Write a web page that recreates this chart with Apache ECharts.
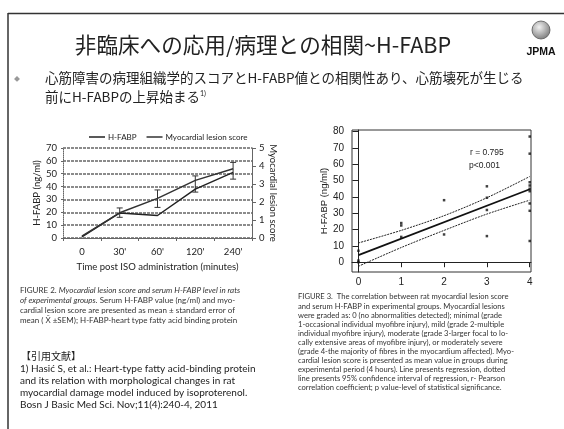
<!DOCTYPE html>
<html><head><meta charset="utf-8">
<script src="https://cdn.jsdelivr.net/npm/echarts@6/dist/echarts.min.js"></script>
<style>html,body{margin:0;padding:0;background:#fff}#c{width:564px;height:429px}</style>
</head><body><div id="c"></div>
<script>
// ---- Left chart data (FIGURE 2) ----
var categories = ['0', "30'", "60'", "120'", "240'"];
var hfabp = [0.8, 19.5, 17.5, 38, 51];            // ng/ml, left axis
var lesionScore = [0.1, 1.4, 2.2, 3.2, 3.85];     // score, right axis
var errLow = [null, 1.15, 1.7, 2.55, 3.27];
var errHigh = [null, 1.67, 2.67, 3.45, 4.2];

// ---- Right chart data (FIGURE 3) ----
var scoreX = [0, 0, 0, 1, 1, 1, 2, 2, 3, 3, 3, 3, 4, 4, 4, 4, 4, 4, 4, 4, 4];
var fabpY = [7, 1, 0, 24, 22.5, 15.5, 38, 17, 46.5, 39.5, 32, 16, 77, 66.5, 49, 47, 45, 43.5, 36, 31.5, 13];
var regX = [0, 4];
var regY = [4.3, 44.7];
var ciX = [0, 1, 2, 3, 4];
var ciUpper = [11.8, 19.5, 28.5, 39.5, 52.5];
var ciLower = [-2.5, 9, 19.5, 29.5, 38];
var scatterXTicks = [0, 1, 2, 3, 4];
var scatterYTicks = [0, 10, 20, 30, 40, 50, 60, 70, 80];

var JP = '"Noto Sans CJK JP", sans-serif';
var CAL = 'Lato, "Open Sans", sans-serif';
var ARI = '"Liberation Sans", Arial, sans-serif';

function zip(a, b) { return a.map(function (v, i) { return [v, b[i]]; }); }

var chart = echarts.init(document.getElementById('c'), null, {renderer: 'canvas'});

var capLeft = [
  'FIGURE 2. {i|Myocardial lesion score and serum H-FABP level in rats}',
  '{i|of experimental groups.} Serum H-FABP value (ng/ml) and myo-',
  'cardial lesion score are presented as mean \u00b1 standard error of',
  'mean ( X\u0304 \u00b1SEM); H-FABP-heart type fatty acid binding protein'
];
var refs = [
  '1) Hasi\u0107 S, et al.: Heart-type fatty acid-binding protein',
  'and its relation with morphological changes in rat',
  'myocardial damage model induced by isoproterenol.',
  'Bosn J Basic Med Sci. Nov;11(4):240-4, 2011'
];
var capRight = [
  'FIGURE 3.  The correlation between rat myocardial lesion score',
  'and serum H-FABP in experimental groups. Myocardial lesions',
  'were graded as: 0 (no abnormalities detected); minimal (grade',
  '1-occasional individual myofibre injury), mild (grade 2-multiple',
  'individual myofibre injury), moderate (grade 3-larger focal to lo-',
  'cally extensive areas of myofibre injury), or moderately severe',
  '(grade 4-the majority of fibres in the myocardium affected). Myo-',
  'cardial lesion score is presented as mean value in groups during',
  'experimental period (4 hours). Line presents regression, dotted',
  'line presents 95% confidence interval of regression, r- Pearson',
  'correlation coefficient; p value-level of statistical significance.'
];

var graphics = [
  {type: 'line', shape: {x1: 8, y1: 13.5, x2: 564, y2: 13.5}, style: {stroke: '#333', lineWidth: 1.5}},
  {type: 'line', shape: {x1: 8, y1: 13, x2: 8, y2: 429}, style: {stroke: '#333', lineWidth: 1.5}},
  {type: 'text', x: 263, y: 45, style: {text: '\u975e\u81e8\u5e8a\u3078\u306e\u5fdc\u7528/\u75c5\u7406\u3068\u306e\u76f8\u95a2~H-FABP', font: '21.6px ' + JP, fill: '#222', align: 'center', verticalAlign: 'middle'}},
  {type: 'circle', shape: {cx: 541, cy: 30, r: 9}, style: {fill: {type: 'radial', x: 0.4, y: 0.35, r: 0.7, colorStops: [{offset: 0, color: '#f2f2f2'}, {offset: 1, color: '#777'}]}, stroke: '#555', lineWidth: 0.8}},
  {type: 'text', x: 541, y: 52, style: {text: 'JPMA', font: 'bold 10.5px ' + ARI, fill: '#111', align: 'center', verticalAlign: 'middle'}},
  {type: 'text', x: 17, y: 79, style: {text: '\u25c6', font: '6px ' + JP, fill: '#999', align: 'center', verticalAlign: 'middle'}},
  {type: 'text', x: 45, y: 78, style: {text: '\u5fc3\u7b4b\u969c\u5bb3\u306e\u75c5\u7406\u7d44\u7e54\u5b66\u7684\u30b9\u30b3\u30a2\u3068H-FABP\u5024\u3068\u306e\u76f8\u95a2\u6027\u3042\u308a\u3001\u5fc3\u7b4b\u58ca\u6b7b\u304c\u751f\u3058\u308b', font: '13.5px ' + JP, fill: '#222', verticalAlign: 'middle'}},
  {type: 'text', x: 45, y: 97, style: {text: '\u524d\u306bH-FABP\u306e\u4e0a\u6607\u59cb\u307e\u308b{s|1)}', font: '13.5px ' + JP, fill: '#222', verticalAlign: 'middle', rich: {s: {font: '7px ' + CAL, fill: '#222', verticalAlign: 'top', padding: [0, 0, 6, 0]}}}},
  {type: 'text', x: 470, y: 153, style: {text: 'r = 0.795', font: '8.5px ' + ARI, fill: '#222', verticalAlign: 'middle'}},
  {type: 'text', x: 469, y: 166, style: {text: 'p<0.001', font: '8.5px ' + ARI, fill: '#222', verticalAlign: 'middle'}},
  {type: 'text', x: 21, y: 356, style: {text: '\u3010\u5f15\u7528\u6587\u732e\u3011', font: '10px ' + JP, fill: '#222', verticalAlign: 'middle'}}
];
capLeft.forEach(function (t, i) {
  graphics.push({type: 'text', x: 20, y: 290 + i * 10, style: {text: t, font: '8px ' + CAL, fill: '#333', verticalAlign: 'middle', rich: {i: {font: 'italic 8px ' + CAL, fill: '#333'}}}});
});
refs.forEach(function (t, i) {
  graphics.push({type: 'text', x: 20, y: 369 + i * 12, style: {text: t, font: '10px ' + CAL, fill: '#222', verticalAlign: 'middle'}});
});
capRight.forEach(function (t, i) {
  graphics.push({type: 'text', x: 298, y: 297 + i * 9.1, style: {text: t, font: '7.6px ' + CAL, fill: '#333', verticalAlign: 'middle'}});
});

var option = {
  animation: false,
  backgroundColor: '#fff',
  textStyle: {fontFamily: CAL},
  legend: {
    data: ['H-FABP', 'Myocardial lesion score'],
    top: 128, left: 84, itemGap: 10, itemWidth: 16, itemHeight: 1.5, icon: 'rect',
    textStyle: {fontSize: 8, color: '#222', fontFamily: CAL, padding: [0, 0, 0, -2]}
  },
  grid: [
    {left: 63, top: 148, width: 189, height: 90},
    {left: 352, top: 130, width: 179, height: 142, show: true, borderColor: '#333', borderWidth: 1, backgroundColor: 'transparent'}
  ],
  xAxis: [
    {type: 'category', gridIndex: 0, data: categories, boundaryGap: true,
     axisLine: {lineStyle: {color: '#666', width: 1}}, axisTick: {show: true, length: 3, lineStyle: {color: '#666'}},
     axisLabel: {fontSize: 9.5, color: '#222', margin: 9, fontFamily: CAL},
     name: 'Time post ISO administration (minutes)', nameLocation: 'middle', nameGap: 24,
     nameTextStyle: {fontSize: 9.5, color: '#222', fontFamily: CAL}},
    {type: 'value', gridIndex: 1, min: -0.15, max: 4.03,
     axisLine: {lineStyle: {color: '#222'}}, splitLine: {show: false},
     axisTick: {show: true, length: 5, customValues: scatterXTicks, lineStyle: {color: '#222'}},
     axisLabel: {fontSize: 10, color: '#222', margin: 5, customValues: scatterXTicks, fontFamily: ARI}}
  ],
  yAxis: [
    {type: 'value', gridIndex: 0, min: 0, max: 70, interval: 10,
     axisLine: {show: true, lineStyle: {color: '#666', type: 'dotted'}},
     axisTick: {show: true, length: 2, lineStyle: {color: '#666'}},
     splitLine: {show: true, lineStyle: {color: '#666', width: 1.5, type: [3, 1]}},
     axisLabel: {fontSize: 9.5, color: '#222', margin: 6, fontFamily: CAL},
     name: 'H-FABP (ng/ml)', nameLocation: 'middle', nameGap: 18,
     nameTextStyle: {fontSize: 9.5, color: '#222', fontFamily: CAL}},
    {type: 'value', gridIndex: 0, position: 'right', min: 0, max: 5, interval: 1,
     axisLine: {show: true, lineStyle: {color: '#666'}}, axisTick: {show: true, length: 4, lineStyle: {color: '#666'}},
     splitLine: {show: false},
     axisLabel: {fontSize: 9.5, color: '#222', margin: 7, fontFamily: CAL},
     name: 'Myocardial lesion score', nameLocation: 'middle', nameGap: 16, nameRotate: -90,
     nameTextStyle: {fontSize: 9.5, color: '#222', fontFamily: CAL}},
    {type: 'value', gridIndex: 1, min: -6, max: 81,
     axisLine: {show: true, lineStyle: {color: '#222'}}, splitLine: {show: false},
     axisTick: {show: true, length: 6, customValues: scatterYTicks, lineStyle: {color: '#222'}},
     axisLabel: {fontSize: 10, color: '#222', margin: 8, customValues: scatterYTicks, fontFamily: ARI},
     name: 'H-FABP (ng/ml)', nameLocation: 'middle', nameGap: 22,
     nameTextStyle: {fontSize: 9.5, color: '#222', fontFamily: ARI}}
  ],
  series: [
    {name: 'H-FABP', type: 'line', xAxisIndex: 0, yAxisIndex: 0, data: hfabp, symbol: 'none', z: 3,
     lineStyle: {color: '#222', width: 1.5}, itemStyle: {color: '#222'}},
    {name: 'Myocardial lesion score', type: 'line', xAxisIndex: 0, yAxisIndex: 1, data: lesionScore, symbol: 'none', z: 3,
     lineStyle: {color: '#333', width: 1.5}, itemStyle: {color: '#333'}},
    {type: 'custom', xAxisIndex: 0, yAxisIndex: 1, silent: true, z: 3,
     data: categories.map(function (c, i) { return [i, errLow[i], errHigh[i]]; }).filter(function (d) { return d[1] != null; }),
     renderItem: function (params, api) {
       var lo = api.coord([api.value(0), api.value(1)]);
       var hi = api.coord([api.value(0), api.value(2)]);
       var w = 3;
       return {type: 'group', children: [
         {type: 'line', shape: {x1: lo[0], y1: lo[1], x2: hi[0], y2: hi[1]}, style: {stroke: '#333', lineWidth: 1}},
         {type: 'line', shape: {x1: lo[0] - w, y1: lo[1], x2: lo[0] + w, y2: lo[1]}, style: {stroke: '#333', lineWidth: 1}},
         {type: 'line', shape: {x1: hi[0] - w, y1: hi[1], x2: hi[0] + w, y2: hi[1]}, style: {stroke: '#333', lineWidth: 1}}
       ]};
     }},
    {type: 'scatter', xAxisIndex: 1, yAxisIndex: 2, data: zip(scoreX, fabpY), symbol: 'rect', symbolSize: 2.5,
     itemStyle: {color: '#111'}},
    {type: 'line', xAxisIndex: 1, yAxisIndex: 2, data: zip(regX, regY), symbol: 'none',
     lineStyle: {color: '#111', width: 1.8}},
    {type: 'line', xAxisIndex: 1, yAxisIndex: 2, data: zip(ciX, ciUpper), symbol: 'none', smooth: 0.3,
     lineStyle: {color: '#222', width: 1, type: [2, 1]}},
    {type: 'line', xAxisIndex: 1, yAxisIndex: 2, data: zip(ciX, ciLower), symbol: 'none', smooth: 0.3,
     lineStyle: {color: '#222', width: 1, type: [2, 1]}}
  ],
  graphic: {elements: graphics}
};
chart.setOption(option);
</script>
</body></html>
